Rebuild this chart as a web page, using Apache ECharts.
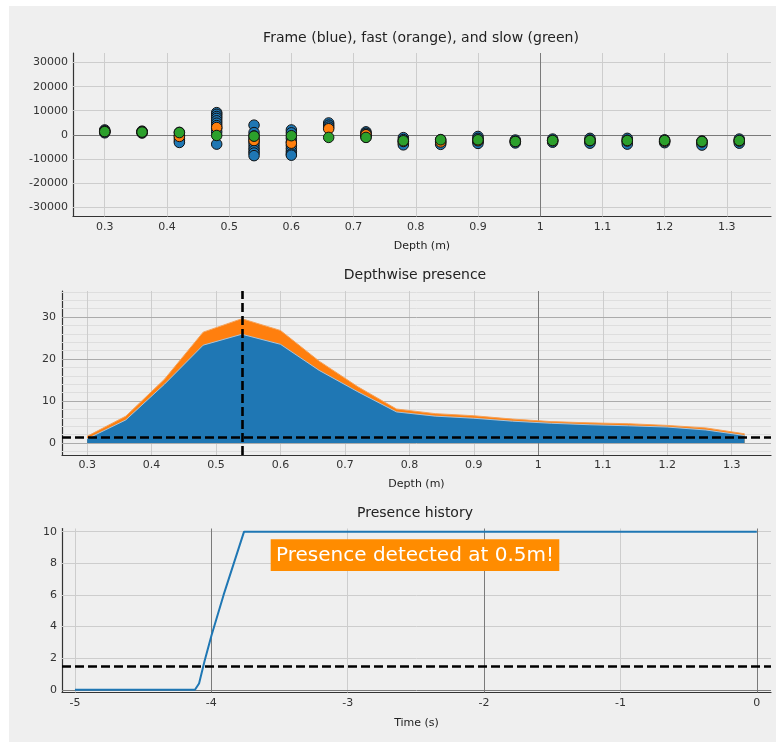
<!DOCTYPE html>
<html><head><meta charset="utf-8">
<script src="https://cdn.jsdelivr.net/npm/echarts@6/dist/echarts.min.js"></script>
<style>
html,body{margin:0;padding:0;background:#fff;}
#wrap{position:relative;width:776px;height:742px;overflow:hidden;}
#bg{position:absolute;left:9px;top:6px;right:0;bottom:0;background:#efefef;}
#chart{position:absolute;left:0;top:0;width:776px;height:742px;}
</style></head><body>
<div id="wrap"><div id="bg"></div><div id="chart"></div></div>
<script>
// ---------------- data ----------------
const depths = [0.30, 0.36, 0.42, 0.48, 0.54, 0.60, 0.66, 0.72, 0.78, 0.84, 0.90, 0.96, 1.02, 1.08, 1.14, 1.20, 1.26, 1.32];
const frameValues = [
  [2000, 1600, 1200, 800, 1400],
  [1500, 1100, 700, 1300],
  [1000, -300, -1500, -2500, -3200],
  [9200, 8500, 7600, 6800, 5800, 4800, 3800, 2600, 1200, -3900],
  [4000, 900, -500, -1800, -3000, -4200, -5500, -6600, -7600, -8700],
  [2000, 800, -1500, -3000, -4500, -5800, -7000, -8000, -8500],
  [4900, 4000, 3200],
  [1200, 600, 0, -500, -1000],
  [-1200, -2000, -2800, -3600, -4200],
  [-2000, -2800, -3400, -4000],
  [-700, -1500, -2300, -3000, -3600],
  [-2200, -2800, -3400],
  [-1800, -2400, -3100],
  [-1500, -2200, -3000, -3500],
  [-1500, -2300, -3100, -3900],
  [-2100, -2700, -3300],
  [-2600, -3400, -4300],
  [-1800, -2600, -3500]
];
const fastValues = [1300, 1100, -700, 3000, -2400, -3500, 2500, 0, -2800, -3000, -2500, -2800, -2500, -2500, -2600, -2700, -3000, -2600];
const slowValues = [1300, 1100, 900, -300, -600, -400, -1100, -1100, -2500, -2100, -2100, -2800, -2400, -2400, -2400, -2400, -2800, -2400];

const presenceSlow = [1.0, 5.5, 14.0, 23.3, 25.9, 23.5, 17.3, 12.2, 7.4, 6.4, 5.9, 5.2, 4.7, 4.35, 4.1, 3.8, 3.1, 1.8];
const presenceFast = [1.6, 6.4, 15.2, 26.4, 29.6, 26.8, 19.5, 13.4, 8.1, 7.0, 6.5, 5.7, 5.1, 4.8, 4.6, 4.2, 3.6, 2.2];
const presenceThreshold = 1.3;
const detectedDepth = 0.54;

const historyTime = [-5, -4.12, -4.09, -4.05, -4.0, -3.91, -3.76, 0];
const historyValue = [0, 0, 0.4, 1.8, 3.4, 6.0, 10, 10];
const historyThreshold = 1.5;

const topXTicks = [0.3, 0.4, 0.5, 0.6, 0.7, 0.8, 0.9, 1.0, 1.1, 1.2, 1.3];
const topYTicks = [-30000, -20000, -10000, 0, 10000, 20000, 30000];
const topXDark = [1.0];
const topYDark = [0];
const midXTicks = [0.3, 0.4, 0.5, 0.6, 0.7, 0.8, 0.9, 1.0, 1.1, 1.2, 1.3];
const midYTicks = [0, 10, 20, 30];
const midYMinor = [-2, 2, 4, 6, 8, 12, 14, 16, 18, 22, 24, 26, 28, 32, 34, 36];
const midXDark = [1.0];
const histXTicks = [-5, -4, -3, -2, -1, 0];
const histYTicks = [0, 2, 4, 6, 8, 10];
const histXDark = [-4, -2, 0];
const histYDark = [0];

const titles = ['Frame (blue), fast (orange), and slow (green)', 'Depthwise presence', 'Presence history'];
const annotationText = 'Presence detected at 0.5m!';

// ---------------- styles ----------------
const FONT = 'DejaVu Sans';
const LIGHT = '#cdcdcd', MINOR = '#dedede', MEDIUM = '#ababab', DARK = '#7a7a7a';
const BLUE = '#1f77b4', ORANGE = '#ff7f0e', GREEN = '#2ca02c';

const grids = [
  {left: 73, top: 53, width: 698, height: 163.5},
  {left: 62, top: 291, width: 709, height: 164},
  {left: 62, top: 528.5, width: 709, height: 164}
];

const plainNum = v => String(v);

function xAxisOf(idx, min, max, ticks, name, gap) {
  return {
    type: 'value', gridIndex: idx, min: min, max: max,
    name: name, nameLocation: 'middle', nameGap: gap,
    nameTextStyle: {fontFamily: FONT, fontSize: 11, color: '#222'},
    axisLine: {show: true, onZero: false, lineStyle: {color: '#333', width: 1.2}},
    axisTick: {show: false},
    splitLine: {show: false},
    axisLabel: {customValues: ticks, formatter: plainNum, fontFamily: FONT, fontSize: 11, color: '#333', margin: 5}
  };
}
function yAxisOf(idx, min, max, ticks, margin) {
  return {
    type: 'value', gridIndex: idx, min: min, max: max,
    axisLine: {show: true, onZero: false, lineStyle: {color: '#333', width: 1.2}},
    axisTick: {show: false},
    splitLine: {show: false},
    axisLabel: {customValues: ticks, formatter: plainNum, fontFamily: FONT, fontSize: 11, color: '#333', margin: margin}
  };
}
function lineItems(key, values, color) {
  return values.map(v => ({[key]: v, lineStyle: {color: color}}));
}
function gridSeries(idx, items) {
  return {
    type: 'line', xAxisIndex: idx, yAxisIndex: idx, data: [], z: 1, silent: true,
    markLine: {
      z: 1, silent: true, symbol: ['none', 'none'], animation: false,
      label: {show: false}, emphasis: {disabled: true},
      lineStyle: {type: 'solid', width: 1}, data: items
    }
  };
}
function dashedSeries(idx, items) {
  return {
    type: 'line', xAxisIndex: idx, yAxisIndex: idx, data: [], z: 10, silent: true,
    markLine: {
      z: 10, silent: true, symbol: ['none', 'none'], animation: false,
      label: {show: false}, emphasis: {disabled: true},
      lineStyle: {type: [9, 4], width: 2.6, color: '#000'}, data: items
    }
  };
}

const without = (arr, rem) => arr.filter(v => rem.indexOf(v) < 0);

const frameData = [];
depths.forEach((d, i) => frameValues[i].forEach(v => frameData.push([d, v])));
const fastData = depths.map((d, i) => [d, fastValues[i]]);
const slowData = depths.map((d, i) => [d, slowValues[i]]);
const presSlowData = depths.map((d, i) => [d, presenceSlow[i]]);
const presFastData = depths.map((d, i) => [d, presenceFast[i]]);
const historyData = historyTime.map((t, i) => [t, historyValue[i]]);

const scatterStyle = (c) => ({color: c, borderColor: '#111', borderWidth: 1, opacity: 1});

const option = {
  animation: false,
  backgroundColor: 'transparent',
  grid: grids,
  xAxis: [
    xAxisOf(0, 0.249, 1.371, topXTicks, 'Depth (m)', 24),
    xAxisOf(1, 0.261, 1.361, midXTicks, 'Depth (m)', 24),
    xAxisOf(2, -5.095, 0.104, histXTicks, 'Time (s)', 25)
  ],
  yAxis: [
    yAxisOf(0, -34000, 34000, topYTicks, 5),
    yAxisOf(1, -2.85, 36.2, midYTicks, 6),
    yAxisOf(2, -0.17, 10.2, histYTicks, 5)
  ],
  series: [
    // grid lines
    gridSeries(0, [].concat(
      lineItems('xAxis', without(topXTicks, topXDark), LIGHT),
      lineItems('yAxis', without(topYTicks, topYDark), LIGHT),
      lineItems('xAxis', topXDark, DARK),
      lineItems('yAxis', topYDark, DARK))),
    gridSeries(1, [].concat(
      lineItems('yAxis', midYMinor, MINOR),
      lineItems('xAxis', without(midXTicks, midXDark), LIGHT),
      lineItems('yAxis', midYTicks, MEDIUM),
      lineItems('xAxis', midXDark, DARK))),
    gridSeries(2, [].concat(
      lineItems('xAxis', without(histXTicks, histXDark), LIGHT),
      lineItems('yAxis', without(histYTicks, histYDark), LIGHT),
      lineItems('xAxis', histXDark, DARK),
      lineItems('yAxis', histYDark, DARK))),
    // top scatter
    {type: 'scatter', xAxisIndex: 0, yAxisIndex: 0, data: frameData, symbolSize: 10.5, itemStyle: scatterStyle(BLUE), z: 3, silent: true},
    {type: 'scatter', xAxisIndex: 0, yAxisIndex: 0, data: fastData, symbolSize: 10.5, itemStyle: scatterStyle(ORANGE), z: 4, silent: true},
    {type: 'scatter', xAxisIndex: 0, yAxisIndex: 0, data: slowData, symbolSize: 10.5, itemStyle: scatterStyle(GREEN), z: 5, silent: true},
    // middle areas
    {type: 'line', xAxisIndex: 1, yAxisIndex: 1, data: presFastData, showSymbol: false, z: 2, silent: true,
     lineStyle: {color: '#f4a25a', width: 1}, areaStyle: {color: ORANGE, opacity: 1}},
    {type: 'line', xAxisIndex: 1, yAxisIndex: 1, data: presSlowData, showSymbol: false, z: 3, silent: true,
     lineStyle: {color: '#a9c3d8', width: 1}, areaStyle: {color: BLUE, opacity: 1}},
    dashedSeries(1, [{yAxis: presenceThreshold}, {xAxis: detectedDepth}]),
    // bottom history
    {type: 'line', xAxisIndex: 2, yAxisIndex: 2, data: historyData, showSymbol: false, z: 4, silent: true,
     lineStyle: {color: BLUE, width: 2}},
    dashedSeries(2, [{yAxis: historyThreshold}])
  ],
  graphic: [
    {type: 'text', x: 421, y: 38, style: {text: titles[0], font: '14px "DejaVu Sans"', fill: '#222', align: 'center', verticalAlign: 'middle'}},
    {type: 'text', x: 415, y: 275, style: {text: titles[1], font: '14px "DejaVu Sans"', fill: '#222', align: 'center', verticalAlign: 'middle'}},
    {type: 'text', x: 415, y: 513.5, style: {text: titles[2], font: '14px "DejaVu Sans"', fill: '#222', align: 'center', verticalAlign: 'middle'}},
    {type: 'rect', shape: {x: 270.7, y: 539.3, width: 288.6, height: 31.7}, style: {fill: '#ff8c00'}, z: 50},
    {type: 'text', x: 415, y: 555.5, style: {text: annotationText, font: '20px "DejaVu Sans"', fill: '#fff', align: 'center', verticalAlign: 'middle'}, z: 51}
  ]
};

const chart = echarts.init(document.getElementById('chart'), null, {renderer: 'canvas'});
chart.setOption(option);
</script>
</body></html>
